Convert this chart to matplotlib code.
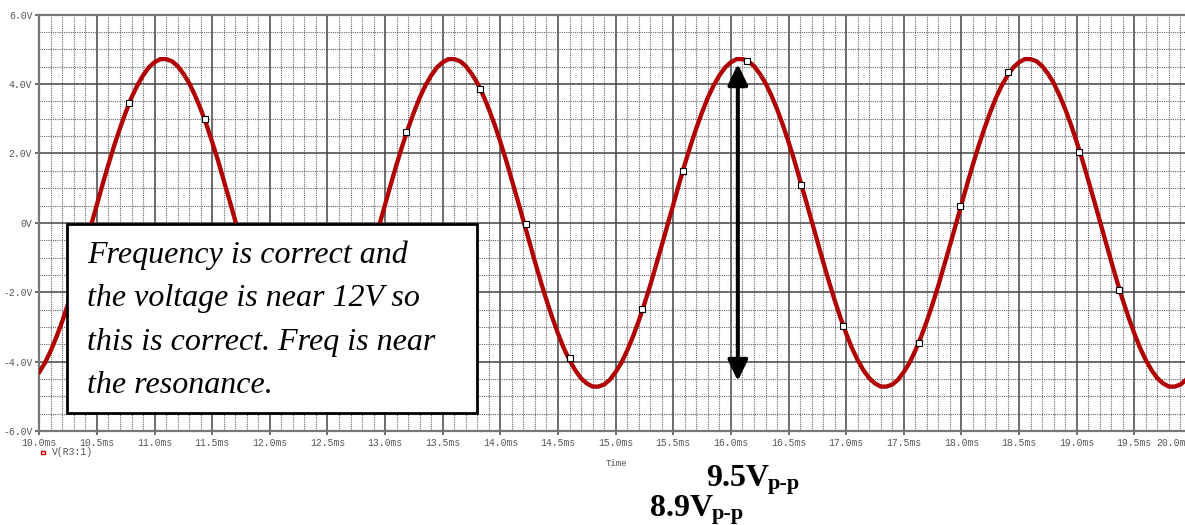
import matplotlib
matplotlib.use("Agg")
import matplotlib.pyplot as plt
from matplotlib.patches import Rectangle
from matplotlib.ticker import MultipleLocator

# waveform V(R3:1), every 0.05 ms from 10.0 to 20.0 ms
time_ms = [10.0 + 0.05 * i for i in range(201)]
volts = [
    -4.30, -4.03, -3.68, -3.28, -2.83, -2.33, -1.80, -1.23, -0.65, -0.06,
    0.53, 1.12, 1.69, 2.23, 2.73, 3.19, 3.61, 3.96, 4.25, 4.48,
    4.63, 4.72, 4.72, 4.66, 4.52, 4.30, 4.03, 3.68, 3.28, 2.83,
    2.33, 1.80, 1.23, 0.65, 0.06, -0.53, -1.12, -1.69, -2.23, -2.73,
    -3.19, -3.61, -3.96, -4.25, -4.48, -4.63, -4.72, -4.72, -4.66, -4.52,
    -4.30, -4.03, -3.68, -3.28, -2.83, -2.33, -1.80, -1.23, -0.65, -0.06,
    0.53, 1.12, 1.69, 2.23, 2.73, 3.19, 3.61, 3.96, 4.25, 4.48,
    4.63, 4.72, 4.72, 4.66, 4.52, 4.30, 4.03, 3.68, 3.28, 2.83,
    2.33, 1.80, 1.23, 0.65, 0.06, -0.53, -1.12, -1.69, -2.23, -2.73,
    -3.19, -3.61, -3.96, -4.25, -4.48, -4.63, -4.72, -4.72, -4.66, -4.52,
    -4.30, -4.03, -3.68, -3.28, -2.83, -2.33, -1.80, -1.23, -0.65, -0.06,
    0.53, 1.12, 1.69, 2.23, 2.73, 3.19, 3.61, 3.96, 4.25, 4.48,
    4.63, 4.72, 4.72, 4.66, 4.52, 4.30, 4.03, 3.68, 3.28, 2.83,
    2.33, 1.80, 1.23, 0.65, 0.06, -0.53, -1.12, -1.69, -2.23, -2.73,
    -3.19, -3.61, -3.96, -4.25, -4.48, -4.63, -4.72, -4.72, -4.66, -4.52,
    -4.30, -4.03, -3.68, -3.28, -2.83, -2.33, -1.80, -1.23, -0.65, -0.06,
    0.53, 1.12, 1.69, 2.23, 2.73, 3.19, 3.61, 3.96, 4.25, 4.48,
    4.63, 4.72, 4.72, 4.66, 4.52, 4.30, 4.03, 3.68, 3.28, 2.83,
    2.33, 1.80, 1.23, 0.65, 0.06, -0.53, -1.12, -1.69, -2.23, -2.73,
    -3.19, -3.61, -3.96, -4.25, -4.48, -4.63, -4.72, -4.72, -4.66, -4.52,
    -4.30,
]

# trace markers (white squares)
marker_t = [10.78, 11.44, 13.18, 13.82, 14.22, 14.60, 15.23, 15.58,
            16.14, 16.61, 16.97, 17.63, 17.99, 18.40, 19.02, 19.37]
marker_v = [3.46, 3.00, 2.62, 3.86, -0.02, -3.91, -2.47, 1.50,
            4.67, 1.10, -2.96, -3.45, 0.50, 4.35, 2.05, -1.95]

# peak-to-peak arrow
arrow_t = 16.06
arrow_top = 4.58
arrow_bottom = -4.56

x_ticks = [10.0 + 0.5 * i for i in range(21)]
x_labels = ["%.1fms" % t for t in x_ticks]
y_ticks = [-6, -4, -2, 0, 2, 4, 6]
y_labels = ["-6.0V", "-4.0V", "-2.0V", "0V", "2.0V", "4.0V", "6.0V"]

note_lines = ["Frequency is correct and", "the voltage is near 12V so",
              "this is correct. Freq is near", "the resonance."]

W, H = 1185, 525
fig = plt.figure(figsize=(W / 100, H / 100), dpi=100)
ax = fig.add_axes([39.3 / W, 1 - 431 / H, (1192 - 39.3) / W, (431 - 14.7) / H])

ax.set_xlim(10, 20)
ax.set_ylim(-6, 6)
ax.set_xticks(x_ticks)
ax.set_xticklabels(x_labels)
ax.set_yticks(y_ticks)
ax.set_yticklabels(y_labels)
ax.xaxis.set_minor_locator(MultipleLocator(0.1))
ax.yaxis.set_minor_locator(MultipleLocator(0.5))

mono = "Liberation Mono"
for lab in ax.get_xticklabels() + ax.get_yticklabels():
    lab.set_fontfamily(mono)
    lab.set_fontsize(7)
    lab.set_color("#555555")
# the last time label sits left of its tick, as in the probe window
ax.get_xticklabels()[-1].set_horizontalalignment("right")
ax.tick_params(axis="both", which="major", length=3, width=1.2, color="#555555", pad=2)
ax.tick_params(axis="both", which="minor", length=0)

ax.grid(which="major", color="#444444", linewidth=1.1, linestyle="-")
ax.grid(which="minor", color="#666666", linewidth=0.8, linestyle=(0, (1, 1)))
ax.set_axisbelow(True)
for sp in ax.spines.values():
    sp.set_color("#777777")
    sp.set_linewidth(1.6)

ax.plot(time_ms, volts, color="#b00000", linewidth=3.1, solid_joinstyle="round", zorder=3)
ax.plot(marker_t, marker_v, linestyle="none", marker="s", markersize=5,
        markerfacecolor="white", markeredgecolor="black", markeredgewidth=0.8, zorder=4)

ax.annotate("", xy=(arrow_t, arrow_top), xytext=(arrow_t, arrow_bottom),
            arrowprops=dict(arrowstyle="<|-|>,head_length=1.15,head_width=0.55",
                            mutation_scale=11, color="black", lw=2.9,
                            shrinkA=0, shrinkB=0), zorder=5)

# legend entry and axis title
fig.patches.append(Rectangle((41.5 / W, 1 - 454 / H), 3.5 / W, 3.5 / H,
                             transform=fig.transFigure, facecolor="white",
                             edgecolor="#cc0000", linewidth=1))
fig.text(52 / W, 1 - 452 / H, "V(R3:1)", fontfamily=mono, fontsize=7,
         color="#555555", va="center")
fig.text(616 / W, 1 - 463 / H, "Time", fontfamily=mono, fontsize=6.5,
         color="#555555", va="center", ha="center")

# note box
fig.patches.append(Rectangle((67 / W, 1 - 413 / H), 410 / W, 189 / H,
                             transform=fig.transFigure, facecolor="white",
                             edgecolor="black", linewidth=2, zorder=6))
serif = "Liberation Serif"
for i, line in enumerate(note_lines):
    fig.text(87 / W, 1 - (263 + 43.3 * i) / H, line, fontfamily=serif,
             fontstyle="italic", fontsize=23, va="baseline", ha="left", zorder=7)

# peak-to-peak labels
fig.text(706 / W, 1 - 486 / H, "9.5V", fontfamily=serif, fontweight="bold",
         fontsize=23, va="baseline")
fig.text(768 / W, 1 - 489 / H, "p-p", fontfamily=serif, fontweight="bold",
         fontsize=16, va="baseline")
fig.text(650 / W, 1 - 516 / H, "8.9V", fontfamily=serif, fontweight="bold",
         fontsize=23, va="baseline")
fig.text(712 / W, 1 - 519 / H, "p-p", fontfamily=serif, fontweight="bold",
         fontsize=16, va="baseline")

fig.savefig("out.png", dpi=100)
